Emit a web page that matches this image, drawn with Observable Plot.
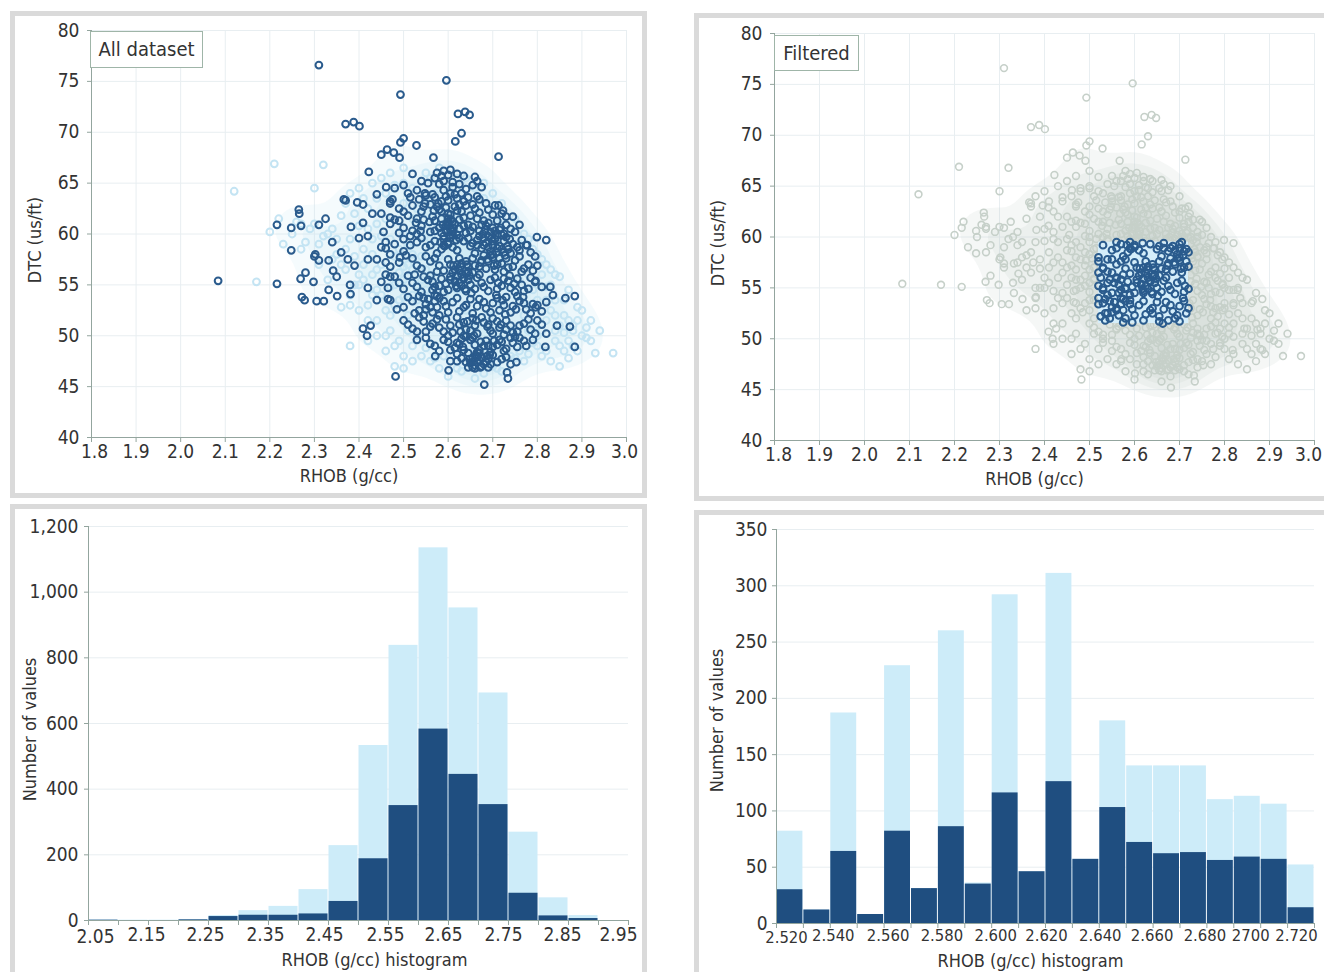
<!DOCTYPE html>
<html>
<head>
<meta charset="utf-8">
<script src="https://cdn.jsdelivr.net/npm/d3@7"></script>
<script src="https://cdn.jsdelivr.net/npm/@observablehq/plot@0.6"></script>
<style>
  html, body { margin: 0; padding: 0; background: #fff; }
  body { width: 1324px; height: 972px; overflow: hidden; position: relative;
         font-family: "DejaVu Sans Condensed", "Liberation Sans", sans-serif; }
  .panel { position: absolute; border: 5px solid #dadada; background: #fff; box-sizing: border-box; }
  .plot { position: absolute; }
  .tag { position: absolute; border: 1.5px solid #9fb5a8; background: #fff; box-sizing: border-box;
         font-size: 20px; color: #333; line-height: 34px; text-align: center; }
</style>
</head>
<body>
<div class="panel" style="left:10px;top:11px;width:637px;height:487px"></div>
<div class="panel" style="left:10px;top:504px;width:637px;height:490px"></div>
<div class="panel" style="left:694px;top:13px;width:650px;height:488px"></div>
<div class="panel" style="left:694px;top:510px;width:650px;height:490px"></div>
<div id="tl" class="plot" style="left:0;top:0"></div>
<div id="tr" class="plot" style="left:660px;top:0"></div>
<div id="bl" class="plot" style="left:0;top:500px"></div>
<div id="br" class="plot" style="left:660px;top:500px"></div>
<div class="tag" style="left:90px;top:31px;width:113px;height:37px">All dataset</div>
<div class="tag" style="left:774px;top:35px;width:85px;height:36px">Filtered</div>
<script>
// ---------- scatter data: [RHOB (g/cc), DTC (us/ft)] ----------
const markedOutliers = [
  [2.310,76.6],[2.596,75.1],[2.493,73.7],[2.622,71.8],[2.638,72.0],[2.648,71.7],[2.370,70.8],[2.388,71.0],
  [2.401,70.6],[2.630,69.9],[2.616,69.1],[2.500,69.4],[2.493,69.0],[2.463,68.3],[2.450,67.8],[2.478,68.0],
  [2.491,67.5],[2.529,68.7],[2.567,67.5],[2.713,67.6],[2.422,66.1],[2.366,63.4],[2.370,63.3],[2.265,62.4],
  [2.266,62.0],[2.216,60.9],[2.248,60.6],[2.270,60.8],[2.310,60.9],[2.325,61.5],[2.248,58.4],[2.216,55.1],
  [2.084,55.4],[2.272,53.8],[2.278,53.5],[2.305,53.4],[2.321,53.4],[2.269,55.6],[2.280,56.2],[2.298,55.3],
  [2.302,58.0],[2.310,57.4],[2.332,57.4],[2.340,59.2],[2.342,56.4],[2.332,54.5],[2.351,53.9],[2.381,54.1],
  [2.360,58.2],[2.382,60.7],[2.409,61.1],[2.409,62.9],[2.396,63.1],[2.440,63.9],[2.461,64.6],[2.475,63.4],
  [2.470,63.0],[2.409,50.7],[2.426,51.0],[2.418,50.0],[2.482,46.0],[2.571,48.0],[2.601,46.6],[2.681,45.2],
  [2.732,46.4],[2.734,45.8],[2.753,47.4],[2.777,58.9],[2.799,59.7],[2.820,59.4],[2.745,61.7],[2.713,62.8],
  [2.723,62.3],[2.863,53.7],[2.884,53.9],[2.873,50.9],[2.884,48.9],[2.844,51.0],[2.818,48.9],[2.829,54.8],
  [2.835,54.0],[2.796,55.4],[2.796,52.8],[2.300,57.8],[2.375,57.5],[2.400,59.6],[2.390,56.9],[2.420,57.5],
  [2.350,55.8],[2.380,55.0],[2.420,54.7],[2.440,53.5],[2.465,53.6],[2.460,56.0],[2.470,55.8],[2.450,58.7],
  [2.460,59.2],[2.470,61.6],[2.480,61.4],[2.430,62.0],[2.420,59.8],[2.590,65.2]
];
const markedCore = [
  [2.57,65.5],[2.59,66.2],[2.60,65.8],[2.62,65.9],[2.635,65.7],[2.66,65.6],[2.665,65.2],[2.52,65.9],[2.58,64.9],[2.61,65.1],[2.50,64.8],
  [2.51,64.0],[2.53,64.3],[2.55,63.8],[2.59,64.3],[2.61,64.6],[2.63,64.0],[2.645,63.6],[2.665,63.7],[2.48,64.5],[2.47,63.2],[2.57,63.6],
  [2.60,63.3],[2.62,63.5],[2.64,62.8],[2.67,63.4],[2.45,62.0],[2.49,62.5],[2.52,62.8],[2.54,62.2],[2.56,62.9],[2.58,62.4],[2.60,62.0],
  [2.615,62.7],[2.63,62.2],[2.65,61.8],[2.67,62.1],[2.69,62.4],[2.705,62.8],[2.73,61.7],[2.53,61.5],[2.57,61.3],[2.61,61.2],[2.635,61.6],
  [2.68,61.3],[2.47,61.0],[2.50,60.6],[2.52,60.3],[2.54,60.8],[2.56,60.2],[2.58,60.6],[2.59,59.8],[2.595,60.3],[2.60,60.9],[2.605,59.6],
  [2.61,60.2],[2.625,60.5],[2.64,60.1],[2.655,60.7],[2.67,60.3],[2.685,60.8],[2.695,60.2],[2.70,60.6],[2.715,60.4],[2.725,60.0],[2.74,60.5],
  [2.455,60.2],[2.60,61.5],[2.46,58.6],[2.48,59.0],[2.50,58.3],[2.53,59.2],[2.55,58.7],[2.57,59.3],[2.585,58.5],[2.60,59.0],[2.62,58.4],
  [2.635,59.3],[2.65,58.8],[2.665,59.4],[2.675,58.6],[2.685,59.1],[2.695,58.3],[2.705,59.5],[2.715,58.8],[2.725,59.3],[2.735,58.5],
  [2.745,59.0],[2.76,58.4],[2.775,58.9],[2.70,58.0],[2.68,57.9],[2.66,58.1],[2.44,57.5],[2.47,56.8],[2.49,57.2],[2.52,57.6],[2.54,56.6],
  [2.56,57.3],[2.58,56.9],[2.60,57.5],[2.615,56.5],[2.63,57.1],[2.645,56.3],[2.655,57.6],[2.67,56.8],[2.69,57.3],[2.705,56.5],[2.72,57.1],
  [2.735,56.7],[2.75,57.4],[2.765,56.3],[2.78,57.0],[2.79,56.4],[2.62,55.9],[2.635,55.7],[2.61,56.2],[2.64,56.1],[2.45,55.3],[2.48,55.8],
  [2.50,54.6],[2.52,55.2],[2.54,54.3],[2.555,55.5],[2.57,54.8],[2.585,55.6],[2.60,54.5],[2.615,55.3],[2.63,54.9],[2.645,55.5],[2.66,54.6],
  [2.675,55.2],[2.69,54.4],[2.705,55.7],[2.72,54.9],[2.735,55.4],[2.75,54.3],[2.765,55.0],[2.78,54.6],[2.795,55.3],[2.57,54.0],[2.47,53.5],
  [2.50,52.8],[2.52,53.4],[2.535,52.5],[2.55,53.1],[2.565,52.3],[2.58,53.7],[2.595,52.9],[2.61,53.3],[2.625,52.4],[2.64,53.0],[2.655,52.2],
  [2.67,53.6],[2.685,52.7],[2.70,53.2],[2.715,52.5],[2.73,53.8],[2.745,52.9],[2.76,53.4],[2.775,52.6],[2.79,53.1],[2.81,52.4],[2.57,53.4],
  [2.58,52.0],[2.50,51.5],[2.52,50.7],[2.535,51.8],[2.55,50.4],[2.565,51.2],[2.58,50.8],[2.595,51.6],[2.61,50.3],[2.625,51.1],[2.64,50.6],
  [2.655,51.7],[2.665,50.2],[2.68,51.3],[2.695,50.5],[2.71,51.4],[2.725,50.1],[2.74,51.0],[2.755,50.4],[2.77,51.2],[2.785,50.6],[2.80,51.5],
  [2.82,50.2],[2.60,50.0],[2.53,49.6],[2.56,49.2],[2.58,48.5],[2.60,49.4],[2.615,48.8],[2.63,49.7],[2.645,48.3],[2.66,49.1],[2.67,48.6],
  [2.685,49.5],[2.70,48.9],[2.715,49.6],[2.73,48.7],[2.745,49.3],[2.76,49.8],[2.775,49.0],[2.64,49.9],[2.63,47.8],[2.65,47.3],[2.66,47.1],
  [2.67,47.6],[2.675,47.0],[2.685,47.4],[2.69,46.9],[2.70,48.1],[2.72,47.7],[2.74,47.2],[2.645,46.9],[2.605,47.5],
  [2.595,60.8],[2.605,60.4],[2.59,59.5],[2.61,59.9],[2.60,61.2],[2.585,60.1],[2.615,61.0],[2.60,59.2],
  [2.69,59.8],[2.70,59.3],[2.71,58.6],[2.695,57.9],[2.72,59.9],[2.705,60.3],[2.68,58.9],[2.715,57.6],[2.725,58.2],
  [2.625,56.4],[2.635,55.6],[2.615,55.4],[2.645,56.8],[2.62,57.0],[2.63,56.0],
  [2.655,47.8],[2.665,47.4],[2.675,47.9],[2.68,47.2],[2.66,46.8],[2.67,48.3],
  [2.635,50.0],[2.65,49.6],[2.70,50.2],[2.72,49.4],[2.73,50.6],[2.69,49.0],[2.75,49.9],[2.625,49.2],
  [2.555,53.6],[2.565,54.5],[2.575,52.8],[2.59,54.3],[2.545,52.0],
  [2.585,63.2],[2.605,64.0],[2.625,62.9],[2.595,62.6],[2.64,64.4]
];
const markedCore2 = [
  [2.555,65.0],[2.575,66.0],[2.605,66.3],[2.625,64.9],[2.655,64.8],[2.675,64.6],[2.54,65.2],[2.585,65.7],
  [2.535,63.4],[2.565,63.9],[2.585,62.2],[2.595,63.7],[2.615,63.9],[2.635,63.2],[2.655,62.9],[2.685,63.0],[2.50,62.2],[2.515,63.6],
  [2.545,62.7],[2.575,62.7],[2.62,62.3],[2.66,62.5],[2.70,61.9],[2.72,62.0],
  [2.49,61.3],[2.51,61.8],[2.545,61.4],[2.565,61.7],[2.585,61.5],[2.605,61.9],[2.625,61.4],[2.645,60.9],[2.665,61.5],[2.675,60.9],
  [2.69,61.1],[2.71,61.3],[2.73,60.9],[2.75,60.2],[2.62,59.9],[2.635,60.8],[2.65,60.3],[2.57,60.3],[2.53,60.0],[2.49,60.1],[2.76,60.9],
  [2.47,58.0],[2.515,58.9],[2.54,59.6],[2.56,58.9],[2.575,58.1],[2.59,58.9],[2.61,58.7],[2.625,59.6],[2.645,59.6],[2.655,59.1],
  [2.67,59.8],[2.68,59.6],[2.69,58.7],[2.70,58.9],[2.71,59.9],[2.72,58.5],[2.73,59.7],[2.74,58.1],[2.755,58.7],[2.765,59.4],
  [2.785,58.2],[2.795,57.8],
  [2.46,57.2],[2.505,57.9],[2.53,56.9],[2.55,57.8],[2.57,57.6],[2.59,56.4],[2.605,57.0],[2.625,57.6],[2.64,57.3],[2.66,56.9],
  [2.675,57.4],[2.685,56.6],[2.70,57.7],[2.71,57.0],[2.725,56.3],[2.73,57.6],[2.745,56.8],[2.76,57.8],[2.77,56.6],[2.80,56.9],
  [2.655,56.2],[2.67,56.0],
  [2.465,54.7],[2.49,55.2],[2.51,55.9],[2.53,54.8],[2.545,55.8],[2.565,55.3],[2.58,54.9],[2.595,55.1],[2.605,55.8],[2.62,54.7],
  [2.64,54.4],[2.65,55.0],[2.665,55.7],[2.68,54.8],[2.695,55.5],[2.71,54.6],[2.725,55.6],[2.74,54.7],[2.755,55.6],[2.77,54.4],
  [2.785,55.7],[2.81,54.8],[2.625,55.2],
  [2.485,52.6],[2.51,53.8],[2.525,52.2],[2.545,53.7],[2.56,52.8],[2.575,53.9],[2.59,53.4],[2.60,52.3],[2.62,53.7],[2.635,52.8],
  [2.65,53.6],[2.665,52.9],[2.68,53.3],[2.695,52.3],[2.71,53.7],[2.725,53.0],[2.74,52.3],[2.755,53.9],[2.77,53.2],[2.785,52.2],
  [2.80,53.0],[2.82,53.3],
  [2.51,51.1],[2.53,50.4],[2.545,51.4],[2.56,50.9],[2.575,51.6],[2.59,50.4],[2.605,51.0],[2.62,51.8],[2.635,51.3],[2.65,50.5],
  [2.66,51.0],[2.675,51.8],[2.69,51.1],[2.70,51.7],[2.715,50.8],[2.73,51.5],[2.745,50.3],[2.76,51.0],[2.78,51.6],[2.795,50.2],[2.81,51.1],
  [2.55,49.8],[2.57,49.0],[2.59,49.6],[2.605,48.6],[2.62,49.3],[2.635,48.6],[2.655,49.8],[2.665,48.4],[2.68,49.0],[2.695,48.4],
  [2.71,49.1],[2.725,48.5],[2.74,49.8],[2.755,48.9],[2.77,49.5],[2.79,49.6],[2.62,48.2],
  [2.64,47.4],[2.655,46.9],[2.665,47.9],[2.69,47.7],[2.695,47.2],[2.71,47.4],[2.73,47.9],[2.62,47.5]
];
const markedCore3 = [
  [2.583,59.2],[2.597,61.0],[2.612,60.6],[2.588,60.9],[2.603,59.9],[2.618,59.4],[2.592,58.8],[2.607,61.4],
  [2.665,58.9],[2.678,60.0],[2.688,57.5],[2.698,59.6],[2.708,58.2],[2.718,60.6],[2.728,57.9],[2.738,59.5],[2.673,57.2],[2.683,60.4],
  [2.703,56.9],[2.733,58.8],
  [2.605,55.5],[2.618,54.9],[2.628,56.8],[2.638,54.6],[2.648,55.9],[2.612,56.9],[2.642,57.0],[2.652,54.2],
  [2.628,50.4],[2.643,51.4],[2.658,50.0],[2.673,49.4],[2.688,50.9],[2.703,49.5],[2.718,51.1],[2.633,48.9],[2.663,51.5],[2.693,48.1],
  [2.648,47.7],[2.662,48.1],[2.672,46.9],[2.687,48.0],[2.657,47.5],
  [2.528,61.1],[2.548,63.0],[2.538,60.3],[2.558,61.2],[2.568,62.3],[2.548,64.0],[2.578,63.0],
  [2.708,54.0],[2.722,53.5],[2.738,55.9],[2.752,52.6],[2.768,53.8],[2.748,55.1],[2.728,52.1],[2.712,55.2],
  [2.500,59.5],[2.515,59.8],[2.492,57.7],[2.525,56.0],[2.560,55.9],[2.575,56.3],[2.550,52.6],[2.535,53.9]
];
const otherPoints = [
  [2.22,61.5],[2.25,60.0],[2.28,59.2],[2.30,61.0],[2.32,59.8],[2.27,58.5],[2.34,60.5],[2.36,61.8],[2.38,59.5],[2.35,58.0],
  [2.31,57.0],[2.33,55.5],[2.37,56.5],[2.39,57.8],[2.40,60.8],[2.42,62.5],[2.41,58.5],[2.43,56.0],[2.44,54.5],[2.42,53.0],
  [2.40,55.0],[2.38,54.0],[2.36,52.8],[2.44,51.5],[2.46,52.5],[2.45,57.0],[2.47,59.5],[2.46,61.5],[2.44,63.5],[2.48,64.8],
  [2.50,63.0],[2.48,57.8],[2.49,56.2],[2.47,54.8],[2.49,53.5],[2.51,55.8],[2.52,54.0],[2.50,56.8],[2.53,57.0],[2.51,58.8],
  [2.54,59.8],[2.52,61.5],[2.55,63.5],[2.47,50.5],[2.49,49.5],[2.51,52.0],[2.53,50.0],[2.55,48.8],[2.57,47.8],[2.59,48.0],
  [2.62,46.8],[2.68,46.3],[2.71,46.8],[2.75,47.8],[2.78,48.2],[2.80,49.0],[2.82,48.5],[2.84,49.5],[2.86,50.3],[2.88,51.0],
  [2.90,50.0],[2.92,51.5],[2.89,52.8],[2.87,54.5],[2.85,55.8],[2.83,56.5],[2.81,57.5],[2.79,58.5],[2.77,60.0],[2.75,61.5],
  [2.72,63.0],[2.70,64.0],[2.68,65.0],[2.55,66.0],[2.50,66.5],[2.45,65.5],[2.40,64.5],[2.56,56.0],[2.58,55.0],[2.54,52.5],
  [2.56,51.0],[2.59,53.8],[2.62,54.5],[2.64,52.5],[2.66,50.8],[2.69,52.0],[2.72,53.0],[2.74,50.5],[2.77,52.0],[2.80,53.5],
  [2.82,54.8],[2.84,52.0],[2.81,50.5],[2.79,51.0],[2.86,48.5],[2.83,47.5],[2.88,49.0],[2.91,49.8],[2.94,50.5],[2.93,48.3],
  [2.76,55.5],[2.78,56.0],[2.74,58.0],[2.71,61.0],[2.66,62.5],[2.63,64.8],[2.57,64.0],[2.53,62.5],[2.43,59.5],[2.39,62.0],
  [2.37,63.0],[2.23,59.0],[2.26,61.2],[2.20,60.2],[2.46,48.5],[2.48,47.0],[2.38,49.0],[2.50,46.8],[2.30,64.5],[2.32,66.8],
  [2.21,66.9],[2.12,64.2],[2.17,55.3],[2.97,48.3],
  [2.42,60.5],[2.43,58.0],[2.44,56.5],[2.45,54.0],[2.46,50.0],[2.47,52.0],[2.48,53.0],[2.48,55.0],[2.49,58.5],[2.50,60.0],
  [2.50,55.5],[2.50,53.8],[2.51,57.0],[2.51,50.5],[2.52,56.5],[2.52,58.0],[2.53,55.0],[2.53,53.5],[2.54,57.8],[2.54,55.5],
  [2.55,56.5],[2.55,54.5],[2.56,53.0],[2.56,59.5],[2.57,55.8],[2.58,57.8],[2.45,59.8],[2.44,61.0],[2.41,57.0],[2.40,56.0],
  [2.39,55.0],[2.41,55.5],[2.43,54.0],[2.42,51.5],[2.40,52.5],[2.38,53.0],[2.37,58.5],[2.35,59.5],[2.33,60.0],[2.31,59.0],
  [2.29,60.5],[2.27,61.0],[2.36,57.0],[2.34,57.5],
  [2.78,53.0],[2.79,54.5],[2.80,55.0],[2.81,56.0],[2.82,53.5],[2.83,52.5],[2.83,55.0],[2.84,53.5],[2.85,51.0],[2.86,52.0],
  [2.86,53.5],[2.87,51.5],[2.87,49.5],[2.85,49.0],[2.84,50.5],[2.82,51.5],[2.80,50.0],[2.79,49.3],[2.81,48.0],[2.77,47.5],
  [2.76,48.5],[2.74,48.0],[2.72,46.5],[2.70,47.0],[2.78,50.5],[2.88,50.5],[2.89,51.5],[2.90,52.5],[2.91,50.8],[2.92,49.5],
  [2.89,48.5],[2.87,47.8],[2.85,47.0],[2.82,57.0],[2.84,56.0],[2.80,58.0],
  [2.60,64.5],[2.62,65.5],[2.64,65.5],[2.66,64.5],[2.68,63.5],[2.70,62.5],[2.72,61.5],[2.74,60.0],[2.76,59.0],[2.78,59.5],
  [2.58,66.5],[2.56,65.5],[2.52,64.5],[2.50,65.0],[2.47,66.0],[2.46,64.0],[2.43,65.0],[2.41,63.5],[2.38,64.0],
  [2.50,48.0],[2.52,49.0],[2.54,48.0],[2.56,47.5],[2.58,46.8],[2.60,46.0],[2.63,46.5],[2.66,45.8],[2.52,47.5],[2.48,49.0],
  [2.44,50.0],[2.42,49.5]
];
// Selection used in the "Filtered" view
const filterRHOB = [2.52, 2.72];
const filterDTC = [51.5, 59.5];
const scatterXTicks = [1.8,1.9,2.0,2.1,2.2,2.3,2.4,2.5,2.6,2.7,2.8,2.9,3.0];
const scatterYTicks = [40,45,50,55,60,65,70,75,80];

// ---------- histogram data ----------
const allBinStart = [2.05,2.10,2.15,2.20,2.25,2.30,2.35,2.40,2.45,2.50,2.55,2.60,2.65,2.70,2.75,2.80,2.85,2.90];
const allBinTotal = [2,1,1,3,15,30,43,94,228,533,838,1135,952,693,269,69,15,0];
const allBinMarked = [1,0,0,2,12,16,16,20,58,188,350,583,445,353,83,14,6,0];
const allEdges = [2.05,2.10,2.15,2.20,2.25,2.30,2.35,2.40,2.45,2.50,2.55,2.60,2.65,2.70,2.75,2.80,2.85,2.90,2.95];
const allLabelTicks = [2.05,2.15,2.25,2.35,2.45,2.55,2.65,2.75,2.85,2.95];
const allYTicks = [0,200,400,600,800,1000,1200];

const filtBinStart = [2.52,2.53,2.54,2.55,2.56,2.57,2.58,2.59,2.60,2.61,2.62,2.63,2.64,2.65,2.66,2.67,2.68,2.69,2.70,2.71];
const filtBinTotal = [82,12,187,8,229,31,260,36,292,46,311,57,180,140,140,140,110,113,106,52];
const filtBinMarked = [30,12,64,8,82,31,86,35,116,46,126,57,103,72,62,63,56,59,57,14];
const filtEdges = [2.52,2.53,2.54,2.55,2.56,2.57,2.58,2.59,2.60,2.61,2.62,2.63,2.64,2.65,2.66,2.67,2.68,2.69,2.70,2.71,2.72];
const filtLabelTicks = [2.52,2.54,2.56,2.58,2.60,2.62,2.64,2.66,2.68,2.70,2.72];
const filtLabels = ["2.520","2.540","2.560","2.580","2.600","2.620","2.640","2.660","2.680","2700","2.720"];
const filtYTicks = [0,50,100,150,200,250,300,350];

// ---------- styling ----------
const FONT = '"DejaVu Sans Condensed", "Liberation Sans", sans-serif';
const AXIS = "#93a59e";
const GRID = "#e8eef1";
const DARK = "#2a5b8d";
const HAZE = "#c4e4f3";
const GREY = "#c6d0c9";
const BAR_LIGHT = "#cdecf9";
const BAR_DARK = "#1f4e80";
const TXT = "#333";
const style = {background: "transparent", overflow: "visible", fontFamily: FONT, fontSize: "19px", color: TXT};

const marked = markedOutliers.concat(markedCore, markedCore2, markedCore3).map(([x, y]) => ({x, y}));
const others = otherPoints.map(([x, y]) => ({x, y}));
const everything = others.concat(marked);
const inFilter = d => d.x >= filterRHOB[0] && d.x <= filterRHOB[1] && d.y >= filterDTC[0] && d.y <= filterDTC[1];

// tick labels: ticks drawn once, labels drawn as separate label-only axes (with small nudges as in the source)
function labelAxes(ticks, fmt, padding, nudges, extra = {}, dys = []) {
  return ticks.map((t, i) => Plot.axisX([t], {anchor: "bottom", tickSize: 0, tickPadding: padding, dx: nudges[i] || 0, dy: dys[i] || 0, label: null, tickFormat: fmt, ...extra}));
}

function scatterMarks(extra, nudges) {
  return [
    Plot.ruleX(scatterXTicks, {stroke: GRID}),
    Plot.ruleY(scatterYTicks, {stroke: GRID}),
    ...extra,
    Plot.ruleX([1.8], {stroke: AXIS}),
    Plot.ruleY([40], {stroke: AXIS}),
    Plot.axisY(scatterYTicks, {anchor: "left", tickSize: 4, tickPadding: 8, stroke: AXIS, label: null, tickFormat: d => String(d)}),
    Plot.axisX(scatterXTicks, {anchor: "bottom", tickSize: 5, stroke: AXIS, label: null, tickFormat: () => ""}),
    ...labelAxes(scatterXTicks, d => d.toFixed(1), 7, nudges),
    Plot.text(["RHOB (g/cc)"], {frameAnchor: "bottom", dx: -10, dy: 44, fontSize: 18, fill: TXT}),
    Plot.text(["DTC (us/ft)"], {frameAnchor: "left", textAnchor: "middle", dx: -56, dy: 6, rotate: -90, fontSize: 18, fill: TXT})
  ];
}

const tl = Plot.plot({
  width: 660, height: 500, marginLeft: 91, marginRight: 34, marginTop: 30, marginBottom: 63,
  style,
  x: {domain: [1.8, 3.0], label: null},
  y: {domain: [40, 80], label: null},
  marks: scatterMarks([
    Plot.density(everything, {x: "x", y: "y", bandwidth: 14, thresholds: 8, fill: "#bfe3f4", fillOpacity: 0.15, stroke: "none"}),
    Plot.dot(others, {x: "x", y: "y", r: 3.4, stroke: HAZE, strokeWidth: 2}),
    Plot.dot(marked, {x: "x", y: "y", r: 3.4, stroke: DARK, strokeWidth: 2})
  ], [3,0,0,0,0,0,0,0,0,0,0,0,-2])
});
document.getElementById("tl").append(tl);

const tr = Plot.plot({
  width: 664, height: 500, marginLeft: 114, marginRight: 10, marginTop: 33, marginBottom: 60,
  style,
  x: {domain: [1.8, 3.0], label: null},
  y: {domain: [40, 80], label: null},
  marks: scatterMarks([
    Plot.density(everything, {x: "x", y: "y", bandwidth: 14, thresholds: 8, fill: "#c0ccc4", fillOpacity: 0.16, stroke: "none"}),
    Plot.dot(everything, {x: "x", y: "y", r: 3.4, stroke: GREY, strokeWidth: 1.6}),
    Plot.rect([{x1: filterRHOB[0], x2: filterRHOB[1], y1: filterDTC[0], y2: filterDTC[1]}],
      {x1: "x1", x2: "x2", y1: "y1", y2: "y2", fill: "#d5eefa"}),
    Plot.dot(everything, {filter: inFilter, x: "x", y: "y", r: 3.4, stroke: DARK, strokeWidth: 2})
  ], [4,0,0,0,0,0,0,0,0,0,0,0,-6])
});
document.getElementById("tr").append(tr);

const allBins = allBinStart.map((s, i) => ({x0: s, x1: allEdges[i + 1], total: allBinTotal[i], marked: allBinMarked[i]}));
const bl = Plot.plot({
  width: 660, height: 472, marginLeft: 88, marginRight: 32, marginTop: 26, marginBottom: 52,
  style,
  x: {domain: [2.05, 2.95], label: null},
  y: {domain: [0, 1200], label: null},
  marks: [
    Plot.ruleY(allYTicks, {stroke: GRID}),
    Plot.rectY(allBins, {x1: "x0", x2: "x1", y: "total", fill: BAR_LIGHT, insetLeft: 0.5, insetRight: 0.5}),
    Plot.rectY(allBins, {x1: "x0", x2: "x1", y: "marked", fill: BAR_DARK, insetLeft: 0.5, insetRight: 0.5}),
    Plot.ruleX([2.05], {stroke: AXIS}),
    Plot.ruleY([0], {stroke: AXIS}),
    Plot.axisY(allYTicks, {anchor: "left", tickSize: 4, tickPadding: 6, stroke: AXIS, label: null, tickFormat: d3.format(",")}),
    Plot.axisX(allEdges, {anchor: "bottom", tickSize: 5, stroke: AXIS, label: null, tickFormat: () => ""}),
    ...labelAxes(allLabelTicks, d => d.toFixed(2), 7, [7,-2,-3,-3,-4,-3,-5,-5,-6,-10], {}, [2]),
    Plot.text(["RHOB (g/cc) histogram"], {frameAnchor: "bottom", dx: 16, dy: 45, fontSize: 18, fill: TXT}),
    Plot.text(["Number of values"], {frameAnchor: "left", textAnchor: "middle", dx: -58, dy: 6, rotate: -90, fontSize: 18, fill: TXT})
  ]
});
document.getElementById("bl").append(bl);

const filtBins = filtBinStart.map((s, i) => ({x0: s, x1: filtEdges[i + 1], total: filtBinTotal[i], marked: filtBinMarked[i]}));
const filtLabelMap = new Map(filtLabelTicks.map((t, i) => [t.toFixed(2), filtLabels[i]]));
const fmtFilt = d => filtLabelMap.get(d.toFixed(2));
const br = Plot.plot({
  width: 664, height: 472, marginLeft: 116, marginRight: 10, marginTop: 29, marginBottom: 49,
  style,
  x: {domain: [2.52, 2.72], label: null},
  y: {domain: [0, 350], label: null},
  marks: [
    Plot.ruleY(filtYTicks, {stroke: GRID}),
    Plot.rectY(filtBins, {x1: "x0", x2: "x1", y: "total", fill: BAR_LIGHT, insetLeft: 0.5, insetRight: 0.5}),
    Plot.rectY(filtBins, {x1: "x0", x2: "x1", y: "marked", fill: BAR_DARK, insetLeft: 0.5, insetRight: 0.5}),
    Plot.ruleX([2.52], {stroke: AXIS}),
    Plot.ruleY([0], {stroke: AXIS}),
    Plot.axisY(filtYTicks, {anchor: "left", tickSize: 4, tickPadding: 5, stroke: AXIS, label: null, tickFormat: d => String(d)}),
    Plot.axisX(filtEdges, {anchor: "bottom", tickSize: 5, stroke: AXIS, label: null, tickFormat: () => ""}),
    ...labelAxes(filtLabelTicks, fmtFilt, 6, [10,3,4,4,4,1,1,-1,-2,-10,-18], {fontSize: 16.5}, [2]),
    Plot.text(["RHOB (g/cc) histogram"], {frameAnchor: "bottom", dx: -15, dy: 43, fontSize: 18, fill: TXT}),
    Plot.text(["Number of values"], {frameAnchor: "left", textAnchor: "middle", dx: -59, dy: -6, rotate: -90, fontSize: 18, fill: TXT})
  ]
});
document.getElementById("br").append(br);
</script>
</body>
</html>
